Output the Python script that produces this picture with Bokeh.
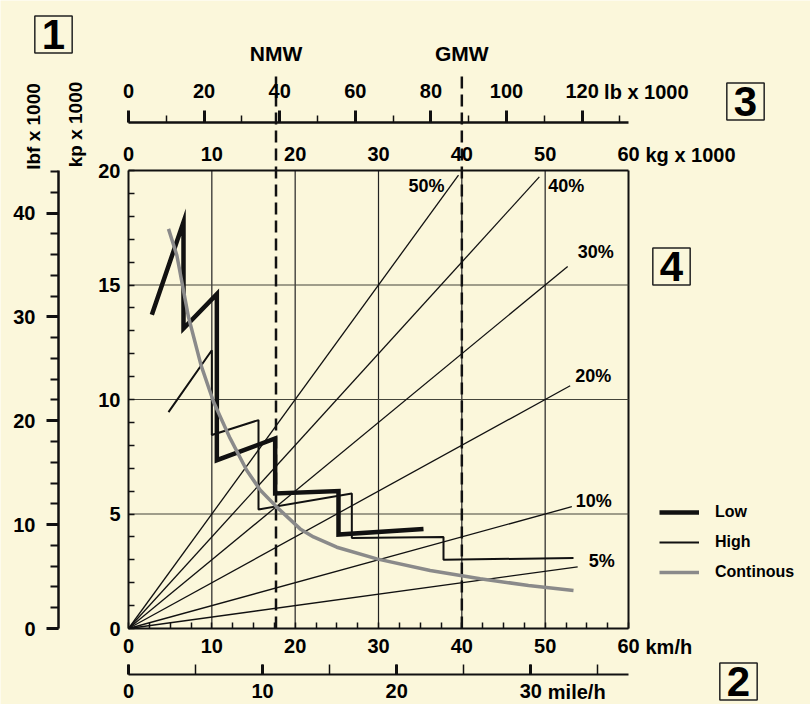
import math
from bokeh.plotting import figure
from bokeh.models import (LinearAxis, Range1d, SingleIntervalTicker, Label,
                          ColumnDataSource, Legend, LegendItem)
from bokeh.core.properties import value
from bokeh.embed import file_html
from bokeh.resources import INLINE

# ---------------- data ----------------
speed_range_kmh = [0, 60]          # km/h (the kg x 1000 scale uses the same span)
force_range_kp = [0, 20]           # kp x 1000
kmh_grid = [10, 20, 30, 40, 50]
kp_grid = [5, 10, 15]

grade_pct = [50, 40, 30, 20, 10, 5]
grade_end_weight = [39.6, 49.3, 52.7, 53.0, 53.2, 53.9]   # kg x 1000 where each grade line stops

weight_names = ["NMW", "GMW"]
weight_values = [17.7, 40.0]       # kg x 1000

low_speed = [2.8, 6.6, 6.6, 10.6, 10.6, 17.6, 17.6, 25.2, 25.2, 35.4]
low_force = [13.7, 17.75, 13.1, 14.6, 7.35, 8.3, 5.9, 6.0, 4.1, 4.35]

high_speed = [4.8, 10.0, 10.0, 15.6, 15.6, 26.8, 26.8, 37.8, 37.8, 53.4]
high_force = [9.45, 12.15, 8.45, 9.1, 5.2, 5.9, 3.95, 4.0, 3.0, 3.08]

cont_speed = [4.8, 5.8, 7.2, 8.7, 10.2, 12.2, 14.2, 15.8, 17.8, 20.6, 22.2, 25.0, 29.8, 36.2, 42.2, 48.0, 53.4]
cont_force = [17.45, 16.3, 13.6, 11.5, 9.9, 8.3, 6.9, 6.05, 5.3, 4.35, 4.0, 3.55, 3.04, 2.53, 2.17, 1.88, 1.66]

legend_labels = ["Low", "High", "Continous"]
box_numbers = ["1", "2", "3", "4"]

# unit conversions
KP_TO_LBF = 2.2046226
KMH_PER_MPH = 1.609344
KG_PER_LB = 0.45359237

# ---------------- layout / style ----------------
W, H = 810, 704
BG = "#fbf7db"
INK = "#111111"
FONT = "Liberation Sans"
# page pixels of the inner chart box (0..60 km/h, 0..20 kp)
BOX_L, BOX_R, BOX_T, BOX_B = 128, 628, 170, 628


def xd(px):
    s0, s1 = speed_range_kmh
    return s0 + (px - BOX_L) / (BOX_R - BOX_L) * (s1 - s0)


def yd(py):
    f0, f1 = force_range_kp
    return f0 + (BOX_B - py) / (BOX_B - BOX_T) * (f1 - f0)


x0, x1 = xd(0), xd(W)
y0, y1 = yd(H), yd(0)

p = figure(width=W, height=H,
           x_range=Range1d(x0, x1), y_range=Range1d(y0, y1),
           x_axis_type=None, y_axis_type=None,
           output_backend="svg", toolbar_location=None,
           min_border=0, min_border_left=0, min_border_right=0,
           min_border_top=0, min_border_bottom=0,
           background_fill_color=BG, border_fill_color=BG,
           outline_line_color=None)

p.extra_x_ranges = {"mph": Range1d(x0 / KMH_PER_MPH, x1 / KMH_PER_MPH),
                    "lb": Range1d(x0 / KG_PER_LB, x1 / KG_PER_LB)}
p.extra_y_ranges = {"lbf": Range1d(y0 * KP_TO_LBF, y1 * KP_TO_LBF)}


def make_axis(side, loc, bounds, interval, minor, range_name=None,
              tick_in=0, tick_out=0, minor_in=0, minor_out=0,
              major_w=1.5, minor_w=1.5, line_w=2, standoff=6):
    kw = {}
    if range_name:
        kw["x_range_name" if side in ("below", "above") else "y_range_name"] = range_name
    ax = LinearAxis(ticker=SingleIntervalTicker(interval=interval, num_minor_ticks=minor),
                    fixed_location=loc, bounds=bounds, **kw)
    ax.major_label_text_font = FONT
    ax.major_label_text_font_style = "bold"
    ax.major_label_text_font_size = "20px"
    ax.major_label_text_color = "black"
    ax.axis_line_color = INK
    ax.axis_line_width = line_w
    ax.major_tick_line_color = INK
    ax.minor_tick_line_color = INK
    ax.major_tick_in = tick_in
    ax.major_tick_out = tick_out
    ax.minor_tick_in = minor_in
    ax.minor_tick_out = minor_out
    ax.major_tick_line_width = major_w
    ax.minor_tick_line_width = minor_w
    ax.major_label_standoff = standoff
    p.add_layout(ax, side)
    return ax


# km/h along the bottom of the chart box
make_axis("below", force_range_kp[0], tuple(speed_range_kmh), 10, 4,
          minor_in=6, standoff=10)
# mile/h below it
make_axis("below", yd(674), (0, speed_range_kmh[1] / KMH_PER_MPH), 10, 2, range_name="mph",
          tick_in=10, minor_in=10, major_w=3, minor_w=1.5, standoff=9)
# kp along the left of the chart box
make_axis("left", speed_range_kmh[0], tuple(force_range_kp), 5, 5,
          minor_in=6, standoff=8)
# lbf further left
make_axis("left", xd(58), (0, force_range_kp[1] * KP_TO_LBF), 10, 5, range_name="lbf",
          tick_out=12, minor_out=8, major_w=3, minor_w=2, line_w=2.5, standoff=11)
# kg along the top of the chart box
make_axis("above", force_range_kp[1], tuple(speed_range_kmh), 10, 0, standoff=10)
# lb above it
make_axis("above", yd(122), (0, speed_range_kmh[1] / KG_PER_LB), 20, 2, range_name="lb",
          tick_out=12, minor_out=7, major_w=3, minor_w=1.5, line_w=2.5, standoff=13)

# right edge of the chart box
p.segment(x0=speed_range_kmh[1], y0=force_range_kp[0], x1=speed_range_kmh[1], y1=force_range_kp[1],
          line_color=INK, line_width=2)

# grid lines inside the chart box
p.segment(x0=kmh_grid, y0=force_range_kp[0], x1=kmh_grid, y1=force_range_kp[1],
          line_color="#222222", line_width=1.2)
p.segment(x0=speed_range_kmh[0], y0=kp_grid, x1=speed_range_kmh[1], y1=kp_grid,
          line_color="#44443a", line_width=1.2)

# grade lines
fan_src = ColumnDataSource(dict(
    x1=grade_end_weight,
    y1=[g / 100.0 * w for g, w in zip(grade_pct, grade_end_weight)],
    lab=[f"{g}%" for g in grade_pct],
    dx=[-50, 9, 10, 5, 4, 11],
    dy=[11, 9, -14, -10, -6, -6],
))
p.segment(x0=0, y0=0, x1="x1", y1="y1", source=fan_src, line_color=INK, line_width=1.3)
p.text(x="x1", y="y1", text="lab", x_offset="dx", y_offset="dy", source=fan_src,
       text_font=value(FONT), text_font_style="bold", text_font_size="18px",
       text_align="left", text_baseline="middle", text_color="black")

# NMW / GMW dashed lines
w_src = ColumnDataSource(dict(w=weight_values, name=weight_names))
p.segment(x0="w", y0=force_range_kp[0], x1="w", y1=yd(70), source=w_src,
          line_color=INK, line_width=2.5, line_dash="12 6")
p.text(x="w", y=yd(53), text="name", source=w_src,
       text_font=value(FONT), text_font_style="bold", text_font_size="21px",
       text_align="center", text_baseline="middle", text_color="black")

# curves
r_high = p.line(high_speed, high_force, line_color=INK, line_width=2)
r_low = p.line(low_speed, low_force, line_color=INK, line_width=4.5, line_join="miter")
r_cont = p.line(cont_speed, cont_force, line_color="#8a8a8a", line_width=3.5)


def add_text(text, x, y, x_offset=0, x_range_name="default", size="20px", align="left", angle=0):
    p.add_layout(Label(x=x, y=y, text=text, x_offset=x_offset, x_range_name=x_range_name,
                       text_font=FONT, text_font_style="bold", text_font_size=size,
                       text_align=align, text_baseline="middle", angle=angle, text_color="black"))


# unit texts after the last tick labels
add_text("lb x 1000", 120, yd(91), x_offset=22, x_range_name="lb")
add_text("kg x 1000", 60, yd(154), x_offset=17)
add_text("km/h", 60, yd(646), x_offset=17)
add_text("mile/h", 30, yd(691), x_offset=17, x_range_name="mph")

# rotated axis titles
add_text("lbf x 1000", xd(33), yd(126), size="19px", align="center", angle=math.pi / 2)
add_text("kp x 1000", xd(75), yd(124), size="19px", align="center", angle=math.pi / 2)

# numbered boxes
box_pos = {"1": (53, 34), "2": (738, 681), "3": (745, 101), "4": (671, 266)}
for num in box_numbers:
    bx, by = box_pos[num]
    p.add_layout(Label(x=xd(bx), y=yd(by), text=num, text_font=FONT, text_font_style="bold",
                       text_font_size="42px", text_align="center", text_baseline="middle",
                       text_color="black", border_line_color="#222222", border_line_width=1.5,
                       padding=dict(left=7, right=7, top=4, bottom=4)))

# legend
legend = Legend(items=[LegendItem(label=legend_labels[0], renderers=[r_low]),
                       LegendItem(label=legend_labels[1], renderers=[r_high]),
                       LegendItem(label=legend_labels[2], renderers=[r_cont])],
                location=(659, 122), background_fill_alpha=0, border_line_color=None,
                padding=0, margin=0, spacing=10, glyph_width=40, glyph_height=20,
                label_height=20, label_standoff=16,
                label_text_font=FONT, label_text_font_style="bold", label_text_font_size="16px",
                label_text_color="black")
p.add_layout(legend)

open("out.html", "w").write(file_html(p, INLINE))
